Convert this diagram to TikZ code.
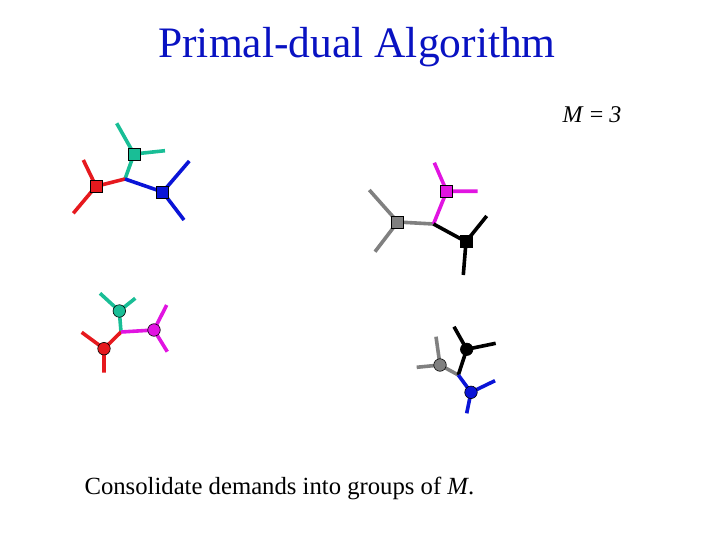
\documentclass[tikz,border=0pt]{standalone}
\usepackage{fontspec}
\setmainfont{Liberation Serif}
\usepackage{tikz}
\definecolor{tgreen}{RGB}{25,190,150}
\definecolor{tred}{RGB}{230,25,30}
\definecolor{tblue}{RGB}{10,20,215}
\definecolor{tmag}{RGB}{225,20,225}
\definecolor{tgray}{RGB}{128,128,128}

\begin{document}
\begin{tikzpicture}[x=1pt,y=-1pt,
    edge/.style={line width=3.6pt},
    sq/.style={draw=black,line width=0.8pt,minimum size=12pt,inner sep=0pt},
    dot/.style={circle,draw=black,line width=0.6pt,minimum size=12.5pt,inner sep=0pt}]
      \useasboundingbox (0,0) rectangle (720,540);
      \node (title) at (357,47) {\fontsize{43.5}{48}\selectfont\color{tblue!90!black}Primal-dual Algorithm};
      \node (mlab) at (592,115) {\fontsize{24}{28}\selectfont\textit{M} = \textit{3}};
      \node[anchor=west] (note) at (81,488) {\fontsize{24.7}{28}\selectfont Consolidate demands into groups of \textit{M}.};
      % squares, left group
      \coordinate (j1) at (125,179);
      \coordinate (g1) at (116.7,123.3); \coordinate (g2) at (165,150.7);
      \coordinate (r1) at (83.3,160); \coordinate (r2) at (73.3,213.3);
      \coordinate (b1) at (189.3,161); \coordinate (b2) at (184,220);
      \draw[edge,tgreen] (g1) -- (134,154) -- (g2) (134,154) -- (j1);
      \draw[edge,tred] (r1) -- (96,186.3) -- (r2) (96,186.3) -- (j1);
      \draw[edge,tblue] (b1) -- (162.7,192) -- (b2) (162.7,192) -- (j1);
      \node[sq,fill=tgreen] (gsq) at (134,154) {};
      \node[sq,fill=tred] (rsq) at (96,186.3) {};
      \node[sq,fill=tblue] (bsq) at (162.7,192) {};
      % squares, right group
      \coordinate (j2) at (433.5,224);
      \coordinate (a1) at (369.3,190); \coordinate (a2) at (375,251.7);
      \coordinate (m1) at (434.3,162.7); \coordinate (m2) at (477.7,191.3);
      \coordinate (k1) at (486.7,216); \coordinate (k2) at (463.3,275);
      \draw[edge,tgray] (a1) -- (397.7,222) -- (a2) (397.7,222) -- (j2);
      \draw[edge,tmag] (m1) -- (446.7,191.3) -- (m2) (446.7,191.3) -- (j2);
      \draw[edge,black] (k1) -- (466,241.7) -- (k2) (466,241.7) -- (j2);
      \node[sq,fill=tgray] (asq) at (397.7,222) {};
      \node[sq,fill=tmag] (msq) at (446.7,191.3) {};
      \node[sq,fill=black] (ksq) at (466,241.7) {};
      % circles, left group
      \coordinate (j3) at (121,332);
      \coordinate (gc1) at (100,293.3); \coordinate (gc2) at (135.3,298.3);
      \coordinate (rc1) at (81.7,332.3); \coordinate (rc2) at (104,372.7);
      \coordinate (mc1) at (166.7,305); \coordinate (mc2) at (167.3,351.7);
      \draw[edge,tgreen] (gc1) -- (119.3,311) -- (gc2) (119.3,311) -- (j3);
      \draw[edge,tred] (rc1) -- (104,348.7) -- (rc2) (104,348.7) -- (j3);
      \draw[edge,tmag] (mc1) -- (154,330) -- (mc2) (154,330) -- (j3);
      \node[dot,fill=tgreen] (gdot) at (119.3,311) {};
      \node[dot,fill=tred] (rdot) at (104,348.7) {};
      \node[dot,fill=tmag] (mdot) at (154,330) {};
      % circles, right group
      \coordinate (j4) at (458.3,375);
      \coordinate (ac1) at (436,336.7); \coordinate (ac2) at (416.7,367.3);
      \coordinate (kc1) at (454,326.7); \coordinate (kc2) at (495.7,343.3);
      \coordinate (bc1) at (495,380.7); \coordinate (bc2) at (466.7,413.3);
      \draw[edge,tgray] (ac1) -- (440,365) -- (ac2) (440,365) -- (j4);
      \draw[edge,black] (kc1) -- (466.7,349.3) -- (kc2) (466.7,349.3) -- (j4);
      \draw[edge,tblue] (bc1) -- (471,392.3) -- (bc2) (471,392.3) -- (j4);
      \node[dot,fill=tgray] (adot) at (440,365) {};
      \node[dot,fill=black] (kdot) at (466.7,349.3) {};
      \node[dot,fill=tblue] (bdot) at (471,392.3) {};
\end{tikzpicture}
\end{document}
